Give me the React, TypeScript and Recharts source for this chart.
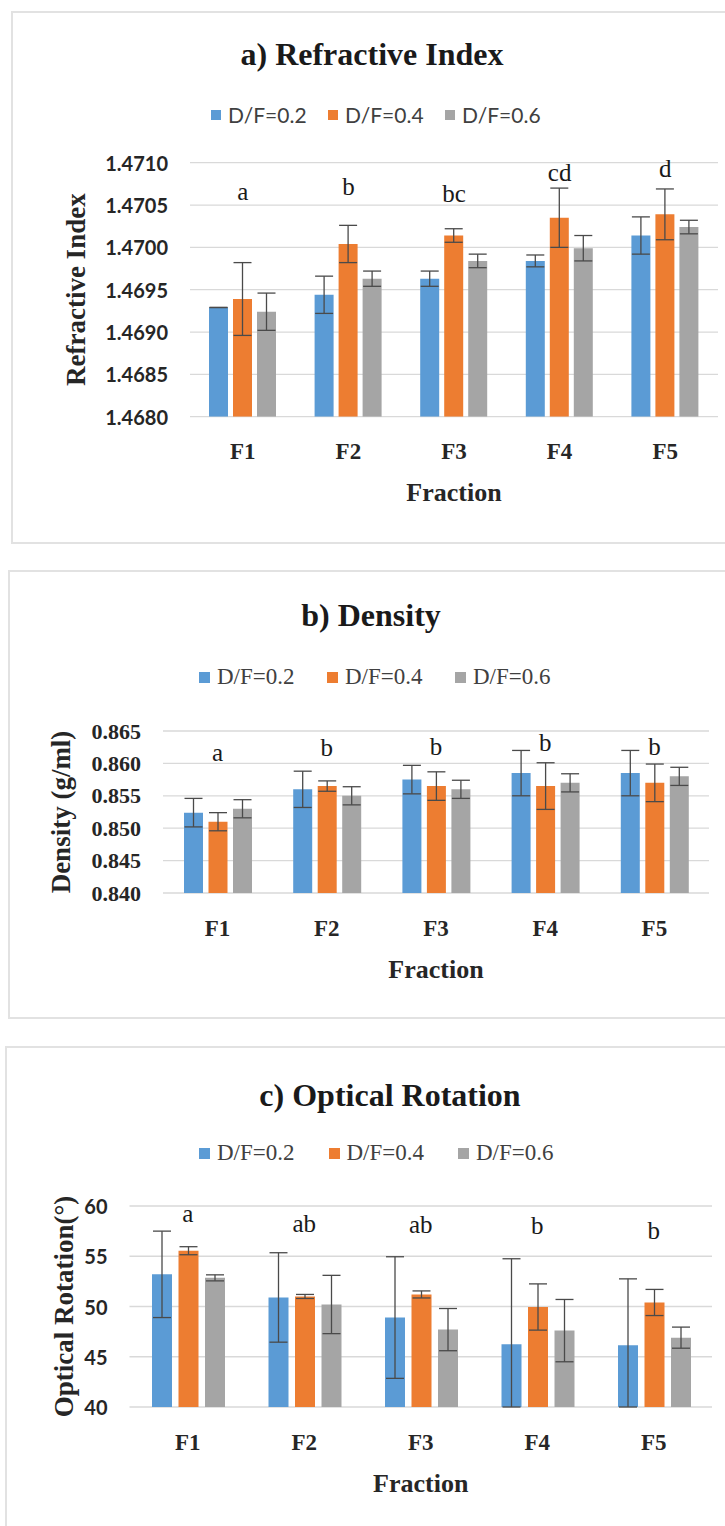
import React from 'react';
import { ComposedChart, Bar, Line, XAxis, YAxis, CartesianGrid, ErrorBar, LabelList } from 'recharts';

const fractions = ['F1', 'F2', 'F3', 'F4', 'F5'];
const seriesNames = ['D/F=0.2', 'D/F=0.4', 'D/F=0.6'];
const colors = ['#5B9BD5', '#ED7D31', '#A5A5A5'];

// a) refractive index
const riDF02 = [1.46929, 1.46944, 1.46963, 1.46984, 1.47014];
const riDF04 = [1.46939, 1.47004, 1.47014, 1.47035, 1.47039];
const riDF06 = [1.46924, 1.46963, 1.46984, 1.46999, 1.47024];
const riErr02 = [0, 0.00022, 0.00009, 0.00007, 0.00022];
const riErr04 = [0.00043, 0.00022, 0.00008, 0.00035, 0.0003];
const riErr06 = [0.00022, 0.00009, 0.00008, 0.00015, 0.00008];
const riLetters = ['a', 'b', 'bc', 'cd', 'd'];
const riLetterY = [1.47066, 1.47072, 1.47064, 1.47089, 1.47093];
const riTicks = [1.468, 1.4685, 1.469, 1.4695, 1.47, 1.4705, 1.471];

// b) density
const deDF02 = [0.8524, 0.856, 0.8575, 0.8585, 0.8585];
const deDF04 = [0.851, 0.8565, 0.8565, 0.8565, 0.857];
const deDF06 = [0.853, 0.855, 0.856, 0.857, 0.858];
const deErr02 = [0.0022, 0.0028, 0.0022, 0.0035, 0.0035];
const deErr04 = [0.0014, 0.0008, 0.0022, 0.0036, 0.0029];
const deErr06 = [0.0014, 0.0014, 0.0014, 0.0014, 0.0014];
const deLetters = ['a', 'b', 'b', 'b', 'b'];
const deLetterY = [0.8617, 0.8625, 0.8626, 0.8633, 0.8626];
const deTicks = [0.84, 0.845, 0.85, 0.855, 0.86, 0.865];

// c) optical rotation
const orDF02 = [53.2, 50.9, 48.9, 46.25, 46.15];
const orDF04 = [55.55, 51.0, 51.2, 49.95, 50.4];
const orDF06 = [52.85, 50.2, 47.7, 47.6, 46.9];
const orErr02 = [4.3, 4.45, 6.05, 8.5, 6.6];
const orErr04 = [0.4, 0.2, 0.35, 2.3, 1.3];
const orErr06 = [0.3, 2.9, 2.1, 3.1, 1.05];
const orLetters = ['a', 'ab', 'ab', 'b', 'b'];
const orLetterY = [59.3, 58.3, 58.2, 58.1, 57.55];
const orTicks = [40, 45, 50, 55, 60];

const serif = '"Liberation Serif", "Times New Roman", serif';
const sans = 'Lato, "Liberation Sans", sans-serif';
const ink = '#262626';

const buildRows = (vals: number[][], errs: number[][], letters: string[], letterY: number[]) =>
  fractions.map((f, i) => ({
    fraction: f,
    s0: vals[0][i], e0: errs[0][i],
    s1: vals[1][i], e1: errs[1][i],
    s2: vals[2][i], e2: errs[2][i],
    letter: letters[i],
    letterY: letterY[i],
  }));

interface PanelProps {
  top: number;
  height: number;
  frameLeft: number;
  frameHeight: number;
  title: string;
  titleX: number;
  titleY: number;
  legendY: number;
  legendX: number;
  legendStep: number;
  legendFont: string;
  legendSize: number;
  swatch: number;
  data: any[];
  ticks: number[];
  fmt: (v: number) => string;
  tickFont: string;
  tickSize: number;
  tickWeight: number;
  plotLeft: number;
  plotRight: number;
  plotTop: number;
  plotBottom: number;
  catGap: number;
  barGap: number;
  yTitle: string;
  yTitleX: number;
  capWidth: number;
}

const Panel: React.FC<PanelProps> = (p) => {
  const axisH = 90;
  const yMin = p.ticks[0];
  return (
    <>
      <div
        style={{
          position: 'absolute', left: p.frameLeft, top: p.top, width: 760, height: p.frameHeight,
          border: '2px solid #e2e2e2', boxSizing: 'border-box',
        }}
      />
      <div
        style={{
          position: 'absolute', left: p.titleX - 300, top: p.titleY - 20, width: 600, height: 40,
          lineHeight: '40px', textAlign: 'center', fontFamily: serif, fontWeight: 700, fontSize: 32, color: '#1a1a1a',
        }}
      >
        {p.title}
      </div>
      <div style={{ position: 'absolute', left: p.legendX, top: p.legendY - 15, height: 30, display: 'flex' }}>
        {seriesNames.map((n, i) => (
          <div key={n} style={{ width: p.legendStep, display: 'flex', alignItems: 'center' }}>
            <span style={{ width: p.swatch, height: p.swatch, background: colors[i], display: 'inline-block', marginRight: 7 }} />
            <span style={{ fontFamily: p.legendFont, fontSize: p.legendSize, color: '#404040', lineHeight: '30px' }}>{n}</span>
          </div>
        ))}
      </div>
      <div style={{ position: 'absolute', left: 0, top: p.top }}>
        <ComposedChart
          width={725}
          height={p.height}
          data={p.data}
          barCategoryGap={p.catGap}
          barGap={p.barGap}
          margin={{
            top: p.plotTop - p.top,
            right: 725 - p.plotRight,
            bottom: p.height - (p.plotBottom - p.top) - axisH,
            left: 0,
          }}
        >
          <CartesianGrid vertical={false} stroke="#d9d9d9" strokeWidth={1.3} />
          <XAxis
            dataKey="fraction"
            axisLine={false}
            tickLine={false}
            tickSize={0}
            tickMargin={0}
            height={axisH}
            interval={0}
            tick={(t: any) => (
              <text x={t.x} y={t.y + 35} textAnchor="middle" dominantBaseline="central"
                fontFamily={serif} fontWeight={700} fontSize={23} fill={ink}>
                {t.payload.value}
              </text>
            )}
            label={(l: any) => {
              const vb = l.viewBox;
              return (
                <text x={vb.x + vb.width / 2} y={vb.y + 76} textAnchor="middle" dominantBaseline="central"
                  fontFamily={serif} fontWeight={700} fontSize={26} fill={ink}>
                  Fraction
                </text>
              );
            }}
          />
          <YAxis
            width={p.plotLeft}
            domain={[yMin, p.ticks[p.ticks.length - 1]]}
            ticks={p.ticks}
            allowDataOverflow
            axisLine={false}
            tickLine={false}
            tickSize={0}
            tickMargin={0}
            interval={0}
            tick={(t: any) => (
              <text x={t.x - 22} y={t.y} textAnchor="end" dominantBaseline="central"
                fontFamily={p.tickFont} fontWeight={p.tickWeight} fontSize={p.tickSize} fill={ink}>
                {p.fmt(t.payload.value)}
              </text>
            )}
            label={(l: any) => {
              const vb = l.viewBox;
              const cy = vb.y + vb.height / 2;
              return (
                <text x={p.yTitleX} y={cy} textAnchor="middle" dominantBaseline="central"
                  transform={`rotate(-90 ${p.yTitleX} ${cy})`}
                  fontFamily={serif} fontWeight={700} fontSize={27} fill={ink}>
                  {p.yTitle}
                </text>
              );
            }}
          />
          {[0, 1, 2].map((i) => (
            <Bar key={i} dataKey={`s${i}`} name={seriesNames[i]} fill={colors[i]} isAnimationActive={false}>
              <ErrorBar
                dataKey={(d: any) => [Math.min(d[`e${i}`], d[`s${i}`] - yMin), d[`e${i}`]]}
                width={p.capWidth}
                stroke="#4a4a4a"
                strokeWidth={1.3}
                direction="y"
              />
            </Bar>
          ))}
          <Line dataKey="letterY" stroke="none" dot={false} activeDot={false} legendType="none" isAnimationActive={false}>
            <LabelList
              dataKey="letter"
              content={(c: any) => (
                <text x={c.x} y={c.y} textAnchor="middle" dominantBaseline="central"
                  fontFamily={serif} fontSize={25} fill="#1a1a1a">
                  {c.value}
                </text>
              )}
            />
          </Line>
        </ComposedChart>
      </div>
    </>
  );
};

const App: React.FC = () => {
  const riRows = buildRows([riDF02, riDF04, riDF06], [riErr02, riErr04, riErr06], riLetters, riLetterY);
  const deRows = buildRows([deDF02, deDF04, deDF06], [deErr02, deErr04, deErr06], deLetters, deLetterY);
  const orRows = buildRows([orDF02, orDF04, orDF06], [orErr02, orErr04, orErr06], orLetters, orLetterY);

  return (
    <div style={{ position: 'absolute', left: 0, top: 0, width: 725, height: 1526, background: '#fff', overflow: 'hidden' }}>
      <Panel
        top={11} height={532} frameLeft={11} frameHeight={533}
        title="a) Refractive Index" titleX={372} titleY={54}
        legendY={115} legendX={211} legendStep={117} legendFont={sans} legendSize={21} swatch={10}
        data={riRows} ticks={riTicks} fmt={(v) => v.toFixed(4)}
        tickFont={sans} tickSize={20} tickWeight={700}
        plotLeft={190} plotRight={718} plotTop={162.7} plotBottom={416.7}
        catGap={19} barGap={5} yTitle="Refractive Index" yTitleX={76} capWidth={9}
      />
      <Panel
        top={570} height={448} frameLeft={8} frameHeight={449}
        title="b) Density" titleX={371} titleY={615}
        legendY={677} legendX={199} legendStep={128} legendFont={serif} legendSize={23} swatch={11}
        data={deRows} ticks={deTicks} fmt={(v) => v.toFixed(3)}
        tickFont={serif} tickSize={22} tickWeight={700}
        plotLeft={163} plotRight={709} plotTop={731} plotBottom={893}
        catGap={21} barGap={5.5} yTitle="Density (g/ml)" yTitleX={61} capWidth={9}
      />
      <Panel
        top={1046} height={480} frameLeft={5} frameHeight={520}
        title="c) Optical Rotation" titleX={390} titleY={1095}
        legendY={1153} legendX={199} legendStep={129.5} legendFont={serif} legendSize={23} swatch={11}
        data={orRows} ticks={orTicks} fmt={(v) => String(v)}
        tickFont={sans} tickSize={20} tickWeight={700}
        plotLeft={129.5} plotRight={712} plotTop={1206} plotBottom={1407}
        catGap={22.5} barGap={6.5} yTitle="Optical Rotation(°)" yTitleX={64} capWidth={9}
      />
    </div>
  );
};

export default App;
